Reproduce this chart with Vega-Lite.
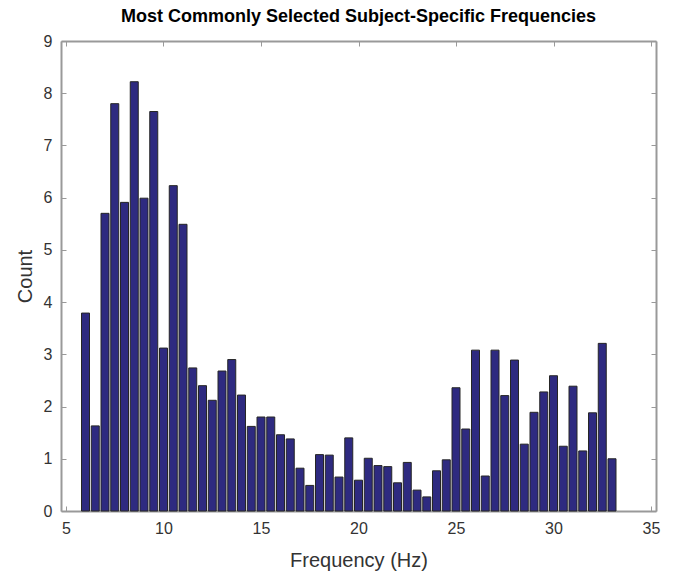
{
  "$schema": "https://vega.github.io/schema/vega-lite/v6.json",
  "width": 595,
  "height": 470,
  "autosize": "none",
  "padding": {"left": 61, "top": 41, "right": 25, "bottom": 61},
  "background": "white",
  "title": {"text": "Most Commonly Selected Subject-Specific Frequencies", "font": "Liberation Sans", "fontSize": 18, "fontWeight": "bold", "color": "#000", "offset": 7, "anchor": "middle"},
  "config": {"view": {"stroke": null}},
  "data": {"values": [
    {"f": 6, "c": 3.79}, {"f": 6.5, "c": 1.63}, {"f": 7, "c": 5.70}, {"f": 7.5, "c": 7.80},
    {"f": 8, "c": 5.91}, {"f": 8.5, "c": 8.22}, {"f": 9, "c": 5.99}, {"f": 9.5, "c": 7.65},
    {"f": 10, "c": 3.12}, {"f": 10.5, "c": 6.23}, {"f": 11, "c": 5.49}, {"f": 11.5, "c": 2.74},
    {"f": 12, "c": 2.40}, {"f": 12.5, "c": 2.12}, {"f": 13, "c": 2.68}, {"f": 13.5, "c": 2.90},
    {"f": 14, "c": 2.22}, {"f": 14.5, "c": 1.62}, {"f": 15, "c": 1.80}, {"f": 15.5, "c": 1.80},
    {"f": 16, "c": 1.46}, {"f": 16.5, "c": 1.38}, {"f": 17, "c": 0.82}, {"f": 17.5, "c": 0.49},
    {"f": 18, "c": 1.08}, {"f": 18.5, "c": 1.07}, {"f": 19, "c": 0.65}, {"f": 19.5, "c": 1.40},
    {"f": 20, "c": 0.59}, {"f": 20.5, "c": 1.01}, {"f": 21, "c": 0.87}, {"f": 21.5, "c": 0.85},
    {"f": 22, "c": 0.54}, {"f": 22.5, "c": 0.93}, {"f": 23, "c": 0.40}, {"f": 23.5, "c": 0.27},
    {"f": 24, "c": 0.77}, {"f": 24.5, "c": 0.98}, {"f": 25, "c": 2.36}, {"f": 25.5, "c": 1.57},
    {"f": 26, "c": 3.08}, {"f": 26.5, "c": 0.67}, {"f": 27, "c": 3.08}, {"f": 27.5, "c": 2.21},
    {"f": 28, "c": 2.89}, {"f": 28.5, "c": 1.28}, {"f": 29, "c": 1.89}, {"f": 29.5, "c": 2.28},
    {"f": 30, "c": 2.59}, {"f": 30.5, "c": 1.24}, {"f": 31, "c": 2.39}, {"f": 31.5, "c": 1.15},
    {"f": 32, "c": 1.88}, {"f": 32.5, "c": 3.21}, {"f": 33, "c": 1.00}
  ]},
  "layer": [
    {
      "mark": {"type": "bar", "width": 8, "fill": "#2E2A80", "stroke": "#262626", "strokeWidth": 1},
      "encoding": {
        "x": {"field": "f", "type": "quantitative", "scale": {"domain": [5, 35], "nice": false, "zero": false},
          "axis": {"values": [5, 10, 15, 20, 25, 30, 35], "title": "Frequency (Hz)", "grid": false,
            "domainColor": "#999999", "domainWidth": 2, "tickColor": "#999999", "tickSize": -5, "tickWidth": 1,
            "labelFont": "Liberation Sans", "labelFontSize": 16, "labelColor": "#333333", "labelPadding": 14,
            "titleFont": "Liberation Sans", "titleFontSize": 20, "titleFontWeight": "normal", "titleColor": "#333333", "titlePadding": 14}},
        "y": {"field": "c", "type": "quantitative", "scale": {"domain": [0, 9], "nice": false},
          "axis": {"values": [0, 1, 2, 3, 4, 5, 6, 7, 8, 9], "title": "Count", "grid": false,
            "domainColor": "#999999", "domainWidth": 2, "tickColor": "#999999", "tickSize": -5, "tickWidth": 1,
            "labelFont": "Liberation Sans", "labelFontSize": 16, "labelColor": "#333333", "labelPadding": 14,
            "titleFont": "Liberation Sans", "titleFontSize": 20, "titleFontWeight": "normal", "titleColor": "#333333", "titlePadding": 8}}
      }
    },
    {
      "mark": {"type": "point", "opacity": 0},
      "encoding": {
        "x": {"field": "f", "type": "quantitative",
          "axis": {"orient": "top", "values": [5, 10, 15, 20, 25, 30, 35], "title": null, "labels": false, "grid": false,
            "domainColor": "#999999", "domainWidth": 2, "tickColor": "#999999", "tickSize": -5, "tickWidth": 1}},
        "y": {"field": "c", "type": "quantitative",
          "axis": {"orient": "right", "values": [0, 1, 2, 3, 4, 5, 6, 7, 8, 9], "title": null, "labels": false, "grid": false,
            "domainColor": "#999999", "domainWidth": 2, "tickColor": "#999999", "tickSize": -5, "tickWidth": 1}}
      }
    }
  ],
  "resolve": {"axis": {"x": "independent", "y": "independent"}}
}
